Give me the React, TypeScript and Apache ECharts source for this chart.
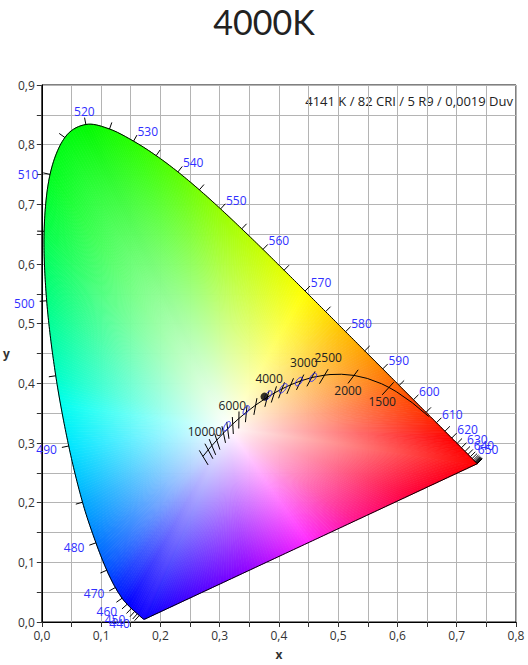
import React, { useEffect, useRef } from 'react';
import * as echarts from 'echarts';

// ---------------- data ----------------
const TITLE = '4000K';
const ANNOTATION = '4141 K / 82 CRI / 5 R9 / 0,0019 Duv';

// CIE 1931 spectral locus (2°), 5 nm steps
const WAVELENGTHS = [380, 385, 390, 395, 400, 405, 410, 415, 420, 425, 430, 435, 440, 445, 450, 455, 460, 465, 470, 475, 480, 485, 490, 495, 500, 505, 510, 515, 520, 525, 530, 535, 540, 545, 550, 555, 560, 565, 570, 575, 580, 585, 590, 595, 600, 605, 610, 615, 620, 625, 630, 635, 640, 645, 650, 655, 660, 665, 670, 675, 680, 685, 690, 695, 700];
const LOCUS_X = [0.1741, 0.1740, 0.1738, 0.1736, 0.1733, 0.1730, 0.1726, 0.1721, 0.1714, 0.1703, 0.1689, 0.1669, 0.1644, 0.1611, 0.1566, 0.1510, 0.1440, 0.1355, 0.1241, 0.1096, 0.0913, 0.0687, 0.0454, 0.0235, 0.0082, 0.0039, 0.0139, 0.0389, 0.0743, 0.1142, 0.1547, 0.1929, 0.2296, 0.2658, 0.3016, 0.3373, 0.3731, 0.4087, 0.4441, 0.4788, 0.5125, 0.5448, 0.5752, 0.6029, 0.6270, 0.6482, 0.6658, 0.6801, 0.6915, 0.7006, 0.7079, 0.7140, 0.7190, 0.7230, 0.7260, 0.7283, 0.7300, 0.7311, 0.7320, 0.7327, 0.7334, 0.7340, 0.7344, 0.7346, 0.7347];
const LOCUS_Y = [0.0050, 0.0050, 0.0049, 0.0049, 0.0048, 0.0048, 0.0048, 0.0048, 0.0051, 0.0058, 0.0069, 0.0086, 0.0109, 0.0138, 0.0177, 0.0227, 0.0297, 0.0399, 0.0578, 0.0868, 0.1327, 0.2007, 0.2950, 0.4127, 0.5384, 0.6548, 0.7502, 0.8120, 0.8338, 0.8262, 0.8059, 0.7816, 0.7543, 0.7243, 0.6923, 0.6589, 0.6245, 0.5896, 0.5547, 0.5202, 0.4866, 0.4544, 0.4242, 0.3965, 0.3725, 0.3514, 0.3340, 0.3197, 0.3083, 0.2993, 0.2920, 0.2859, 0.2809, 0.2770, 0.2740, 0.2717, 0.2700, 0.2689, 0.2680, 0.2673, 0.2666, 0.2660, 0.2656, 0.2654, 0.2653];
const WL_TICK_FROM = 440;
const WL_LABELS = [440, 450, 460, 470, 480, 490, 500, 510, 520, 530, 540, 550, 560, 570, 580, 590, 600, 610, 620, 630, 640, 650];

// Planckian locus
const PLANCK_CCT = [1000, 1200, 1400, 1500, 1600, 1800, 2000, 2200, 2400, 2500, 2750, 3000, 3250, 3500, 3750, 4000, 4500, 5000, 5500, 6000, 6500, 7000, 7500, 8000, 9000, 10000, 12000];
const PLANCK_X = [0.6528, 0.6251, 0.5985, 0.5857, 0.5732, 0.5492, 0.5267, 0.5056, 0.4862, 0.4770, 0.4553, 0.4369, 0.4200, 0.4053, 0.3923, 0.3805, 0.3608, 0.3451, 0.3325, 0.3221, 0.3135, 0.3064, 0.3004, 0.2952, 0.2869, 0.2807, 0.2718];
const PLANCK_Y = [0.3444, 0.3674, 0.3858, 0.3931, 0.3993, 0.4082, 0.4133, 0.4152, 0.4147, 0.4137, 0.4097, 0.4041, 0.3977, 0.3907, 0.3838, 0.3768, 0.3636, 0.3516, 0.3411, 0.3318, 0.3237, 0.3166, 0.3103, 0.3048, 0.2956, 0.2884, 0.2776];
const ISOTHERM_CCT = [1500, 2000, 2500, 2750, 3000, 3250, 3500, 3750, 4000, 4500, 5000, 5500, 6000, 6500, 7000, 8000, 9000, 10000, 12000];
const ISOTHERM_LABELS = [10000, 6000, 4000, 3000, 2500, 2000, 1500];

// MacAdam ellipses
const ELLIPSE_X = [0.3123, 0.3447, 0.3818, 0.4073, 0.4338, 0.4578];
const ELLIPSE_Y = [0.3282, 0.3553, 0.3797, 0.3917, 0.4030, 0.4101];
const ELLIPSE_A = [0.0089, 0.0082, 0.0094, 0.0093, 0.0083, 0.0081];
const ELLIPSE_B = [0.0038, 0.0035, 0.0040, 0.0041, 0.0041, 0.0042];
const ELLIPSE_THETA = [58.6, 59.6, 53.4, 54.0, 53.2, 53.7];

// measured point
const MEASURED_X = [0.3757];
const MEASURED_Y = [0.3777];

// ---------------- style ----------------
const WHITE_X = 0.315;
const WHITE_Y = 0.325;
const PAL_WL = [380, 450, 460, 470, 475, 480, 485, 490, 493, 495, 500, 505, 510, 520, 530, 540, 550, 560, 570, 575, 580, 590, 600, 610, 620, 700];
const PAL_RGB = [
  [30, 0, 255], [10, 0, 255], [0, 0, 255], [0, 40, 255], [0, 80, 255], [0, 120, 255], [0, 170, 255], [0, 230, 255], [0, 255, 240], [0, 255, 200], [0, 255, 130], [0, 255, 70], [0, 255, 30], [0, 250, 0], [40, 255, 0], [90, 255, 0], [150, 255, 0], [200, 255, 0], [255, 255, 0], [255, 225, 0], [255, 190, 0], [255, 130, 0], [255, 70, 0], [255, 30, 0], [255, 0, 0], [255, 0, 0],
];
const PURPLE_S = [0, 0.2, 0.365, 0.51, 0.7, 1];
const PURPLE_RGB = [[255, 0, 0], [255, 0, 60], [255, 20, 140], [255, 40, 255], [140, 0, 255], [10, 0, 255]];
const FONT = '"Open Sans", "Noto Sans", sans-serif';

function interpColor(keys: number[], cols: number[][], v: number): number[] {
  if (v <= keys[0]) return cols[0];
  for (let j = 0; j < keys.length - 1; j++) {
    if (v <= keys[j + 1]) {
      const t = (v - keys[j]) / (keys[j + 1] - keys[j]);
      return [0, 1, 2].map((c) => cols[j][c] + (cols[j + 1][c] - cols[j][c]) * t);
    }
  }
  return cols[cols.length - 1];
}
function rgb(c: number[]) {
  return `rgb(${Math.round(c[0])},${Math.round(c[1])},${Math.round(c[2])})`;
}
function stopsFor(edge: number[]) {
  const ts = [0, 0.2, 0.4, 0.6, 0.8, 1];
  return ts.map((t) => ({ offset: t, color: rgb([0, 1, 2].map((c) => 255 + (edge[c] - 255) * t)) }));
}
function xyToUv(x: number, y: number) {
  const d = -2 * x + 12 * y + 3;
  return [(4 * x) / d, (6 * y) / d];
}
function uvToXy(u: number, v: number) {
  const d = 2 * u - 8 * v + 4;
  return [(3 * u) / d, (2 * v) / d];
}
// Catmull-Rom point between p1 and p2
function cr(p0: number[], p1: number[], p2: number[], p3: number[], t: number) {
  const t2 = t * t, t3 = t2 * t;
  return [0, 1].map((c) => 0.5 * (2 * p1[c] + (-p0[c] + p2[c]) * t + (2 * p0[c] - 5 * p1[c] + 4 * p2[c] - p3[c]) * t2 + (-p0[c] + 3 * p1[c] - 3 * p2[c] + p3[c]) * t3));
}

export default function App() {
  const ref = useRef<HTMLDivElement>(null);
  useEffect(() => {
    if (!ref.current) return;
    const chart = echarts.init(ref.current, undefined, { renderer: 'svg' });
    const n = LOCUS_X.length;
    const locusData = WAVELENGTHS.map((w, i) => [LOCUS_X[i], LOCUS_Y[i], w]);

    const fmt = (v: number) => {
      const k = Math.round(v * 100);
      return k % 10 === 0 ? (k / 100).toFixed(1).replace('.', ',') : '';
    };

    const pix = (api: any, j: number) => api.coord([LOCUS_X[Math.max(0, Math.min(n - 1, j))], LOCUS_Y[Math.max(0, Math.min(n - 1, j))]]);

    // points along the boundary segment i (smooth spectral locus, straight purple line)
    const segmentPoints = (api: any, i: number) => {
      if (i >= n - 1) {
        const P = pix(api, n - 1), Q = pix(api, 0);
        const L = Math.hypot(Q[0] - P[0], Q[1] - P[1]);
        const m = Math.max(1, Math.ceil(L / 3));
        const pts: number[][] = [];
        for (let k = 0; k <= m; k++) pts.push([P[0] + (Q[0] - P[0]) * (k / m), P[1] + (Q[1] - P[1]) * (k / m)]);
        return pts;
      }
      const p0 = pix(api, i - 1), p1 = pix(api, i), p2 = pix(api, i + 1), p3 = pix(api, i + 2);
      const L = Math.hypot(p2[0] - p1[0], p2[1] - p1[1]);
      const m = Math.max(1, Math.ceil(L / 3));
      const pts: number[][] = [];
      for (let k = 0; k <= m; k++) pts.push(cr(p0, p1, p2, p3, k / m));
      return pts;
    };

    const fillRender = (params: any, api: any) => {
      const i = params.dataIndex;
      const W = api.coord([WHITE_X, WHITE_Y]);
      const children: any[] = [];
      let colorAt: (s: number) => number[];
      if (i < n - 1) {
        const w0 = WAVELENGTHS[i], w1 = WAVELENGTHS[i + 1];
        colorAt = (s) => interpColor(PAL_WL, PAL_RGB, w0 + (w1 - w0) * s);
      } else {
        colorAt = (s) => interpColor(PURPLE_S, PURPLE_RGB, s);
      }
      const pts = segmentPoints(api, i);
      const m = pts.length - 1;
      for (let k = 0; k < m; k++) {
        const A = pts[k], B = pts[k + 1];
        const M = [(A[0] + B[0]) / 2, (A[1] + B[1]) / 2];
        const grad = new echarts.graphic.LinearGradient(W[0], W[1], M[0], M[1], stopsFor(colorAt((k + 0.5) / m)), true);
        children.push({
          type: 'polygon',
          shape: { points: [W, A, B] },
          style: { fill: grad, stroke: grad, lineWidth: 0.8 },
        });
      }
      return { type: 'group', children };
    };

    const outlineRender = (params: any, api: any) => ({
      type: 'polyline',
      shape: { points: segmentPoints(api, params.dataIndex) },
      style: { fill: 'none', stroke: '#000', lineWidth: 1 },
    });

    const tickRender = (params: any, api: any) => {
      const i = params.dataIndex;
      const w = WAVELENGTHS[i];
      if (w < WL_TICK_FROM) return { type: 'group', children: [] };
      const P = pix(api, i);
      let jp = i - 1, jn = i + 1;
      while (jp > 0 && Math.hypot(pix(api, jp)[0] - P[0], pix(api, jp)[1] - P[1]) < 2) jp--;
      while (jn < n - 1 && Math.hypot(pix(api, jn)[0] - P[0], pix(api, jn)[1] - P[1]) < 2) jn++;
      jp = Math.max(0, jp);
      jn = Math.min(n - 1, jn);
      let A = pix(api, jp), B = pix(api, jn);
      if (Math.hypot(B[0] - A[0], B[1] - A[1]) < 1) { A = pix(api, n - 8); B = pix(api, n - 1); }
      const dX = B[0] - A[0], dY = B[1] - A[1];
      const len = Math.hypot(dX, dY) || 1;
      const nx = dY / len, ny = -dX / len;
      const children: any[] = [
        { type: 'line', shape: { x1: P[0], y1: P[1], x2: P[0] + nx * 7, y2: P[1] + ny * 7 }, style: { stroke: '#000', lineWidth: 1 } },
      ];
      if (WL_LABELS.indexOf(w) >= 0) {
        const E = [P[0] + nx * 8, P[1] + ny * 8];
        let align = 'center', valign = 'bottom', tx = E[0], ty = E[1] + 1;
        if (nx < -0.35) { align = 'right'; valign = 'middle'; tx = E[0] - 4; ty = E[1] + 2; }
        else if (nx > 0.35) { align = 'left'; valign = 'bottom'; tx = E[0]; ty = E[1] + 3; }
        children.push({
          type: 'text',
          style: { text: String(w), x: tx, y: ty, fill: '#3030ff', font: `12px ${FONT}`, textAlign: align, textVerticalAlign: valign },
        });
      }
      return { type: 'group', children };
    };

    const isoRender = (params: any, api: any) => {
      const cct = ISOTHERM_CCT[params.dataIndex];
      const k = PLANCK_CCT.indexOf(cct);
      const kp = Math.max(0, k - 1), kn = Math.min(PLANCK_CCT.length - 1, k + 1);
      const uv = xyToUv(PLANCK_X[k], PLANCK_Y[k]);
      const uvp = xyToUv(PLANCK_X[kp], PLANCK_Y[kp]);
      const uvn = xyToUv(PLANCK_X[kn], PLANCK_Y[kn]);
      let tu = uvn[0] - uvp[0], tv = uvn[1] - uvp[1];
      const tl = Math.hypot(tu, tv);
      tu /= tl; tv /= tl;
      let nu = -tv, nv = tu;
      if (nv < 0) { nu = -nu; nv = -nv; }
      const xyUp = uvToXy(uv[0] + nu * 0.002, uv[1] + nv * 0.002);
      const P = api.coord([PLANCK_X[k], PLANCK_Y[k]]);
      const U = api.coord(xyUp);
      let dx = U[0] - P[0], dy = U[1] - P[1];
      const dl = Math.hypot(dx, dy);
      dx /= dl; dy /= dl;
      const up = [P[0] + dx * 7, P[1] + dy * 7];
      const dn = [P[0] - dx * 10, P[1] - dy * 10];
      const children: any[] = [
        { type: 'line', shape: { x1: up[0], y1: up[1], x2: dn[0], y2: dn[1] }, style: { stroke: '#000', lineWidth: 1 } },
      ];
      if (ISOTHERM_LABELS.indexOf(cct) >= 0) {
        if (cct >= 2500) {
          children.push({ type: 'text', style: { text: String(cct), x: up[0], y: up[1] - 6, fill: '#222', font: `12px ${FONT}`, textAlign: 'center', textVerticalAlign: 'bottom' } });
        } else {
          children.push({ type: 'text', style: { text: String(cct), x: dn[0], y: dn[1] + 1, fill: '#222', font: `12px ${FONT}`, textAlign: 'center', textVerticalAlign: 'top' } });
        }
      }
      return { type: 'group', children };
    };

    const ellipseRender = (params: any, api: any) => {
      const i = params.dataIndex;
      const th = (ELLIPSE_THETA[i] * Math.PI) / 180;
      const pts: number[][] = [];
      for (let s = 0; s < 48; s++) {
        const ph = (s / 48) * Math.PI * 2;
        const ex = ELLIPSE_A[i] * Math.cos(ph), ey = ELLIPSE_B[i] * Math.sin(ph);
        pts.push(api.coord([ELLIPSE_X[i] + ex * Math.cos(th) - ey * Math.sin(th), ELLIPSE_Y[i] + ex * Math.sin(th) + ey * Math.cos(th)]));
      }
      return { type: 'polygon', shape: { points: pts }, style: { fill: 'none', stroke: '#2828ff', lineWidth: 1 } };
    };

    const axisCommon = {
      type: 'value' as const,
      interval: 0.05,
      axisLine: { show: true, onZero: false, lineStyle: { color: '#000', width: 1 } },
      axisTick: { show: true, length: 5, lineStyle: { color: '#333' } },
      splitLine: { show: true, lineStyle: { color: '#b4b4b4', width: 1 } },
      axisLabel: { formatter: fmt, color: '#333', fontSize: 12, fontFamily: FONT, margin: 7 },
      nameTextStyle: { color: '#333', fontSize: 12, fontWeight: 'bold' as const, fontFamily: FONT },
      nameLocation: 'middle' as const,
    };

    chart.setOption({
      animation: false,
      title: {
        text: TITLE,
        left: 'center',
        top: 3,
        padding: 0,
        textStyle: { fontFamily: 'Lato, sans-serif', fontSize: 34, lineHeight: 36, fontWeight: 'normal', color: '#222' },
      },
      graphic: [
        { type: 'text', right: 15, top: 94, style: { text: ANNOTATION, font: `13px ${FONT}`, fill: '#222' } },
      ],
      grid: { left: 38, right: 12, top: 85, bottom: 40, show: true, borderColor: '#000', borderWidth: 1, backgroundColor: 'transparent' },
      xAxis: { ...axisCommon, min: 0, max: 0.8, name: 'x', nameGap: 26 },
      yAxis: { ...axisCommon, min: 0, max: 0.9, name: 'y', nameGap: 32, nameRotate: 0 },
      series: [
        { type: 'custom', data: locusData, renderItem: fillRender, clip: false, z: 2, silent: true },
        { type: 'custom', data: locusData, renderItem: outlineRender, clip: false, z: 3, silent: true },
        { type: 'custom', data: locusData, renderItem: tickRender, clip: false, z: 3, silent: true },
        { type: 'line', data: PLANCK_X.map((x, i) => [x, PLANCK_Y[i]]), showSymbol: false, symbol: 'none', lineStyle: { color: '#000', width: 1 }, z: 4, silent: true },
        { type: 'custom', data: ISOTHERM_CCT.map((c, i) => [i, c]), renderItem: isoRender, clip: false, z: 4, silent: true },
        { type: 'custom', data: ELLIPSE_X.map((x, i) => [x, ELLIPSE_Y[i]]), renderItem: ellipseRender, clip: false, z: 5, silent: true },
        { type: 'scatter', data: MEASURED_X.map((x, i) => [x, MEASURED_Y[i]]), symbolSize: 8, itemStyle: { color: '#000' }, z: 6, silent: true },
      ],
    });
    return () => chart.dispose();
  }, []);
  return <div ref={ref} style={{ position: 'absolute', left: 0, top: 0, width: 528, height: 665 }} />;
}
